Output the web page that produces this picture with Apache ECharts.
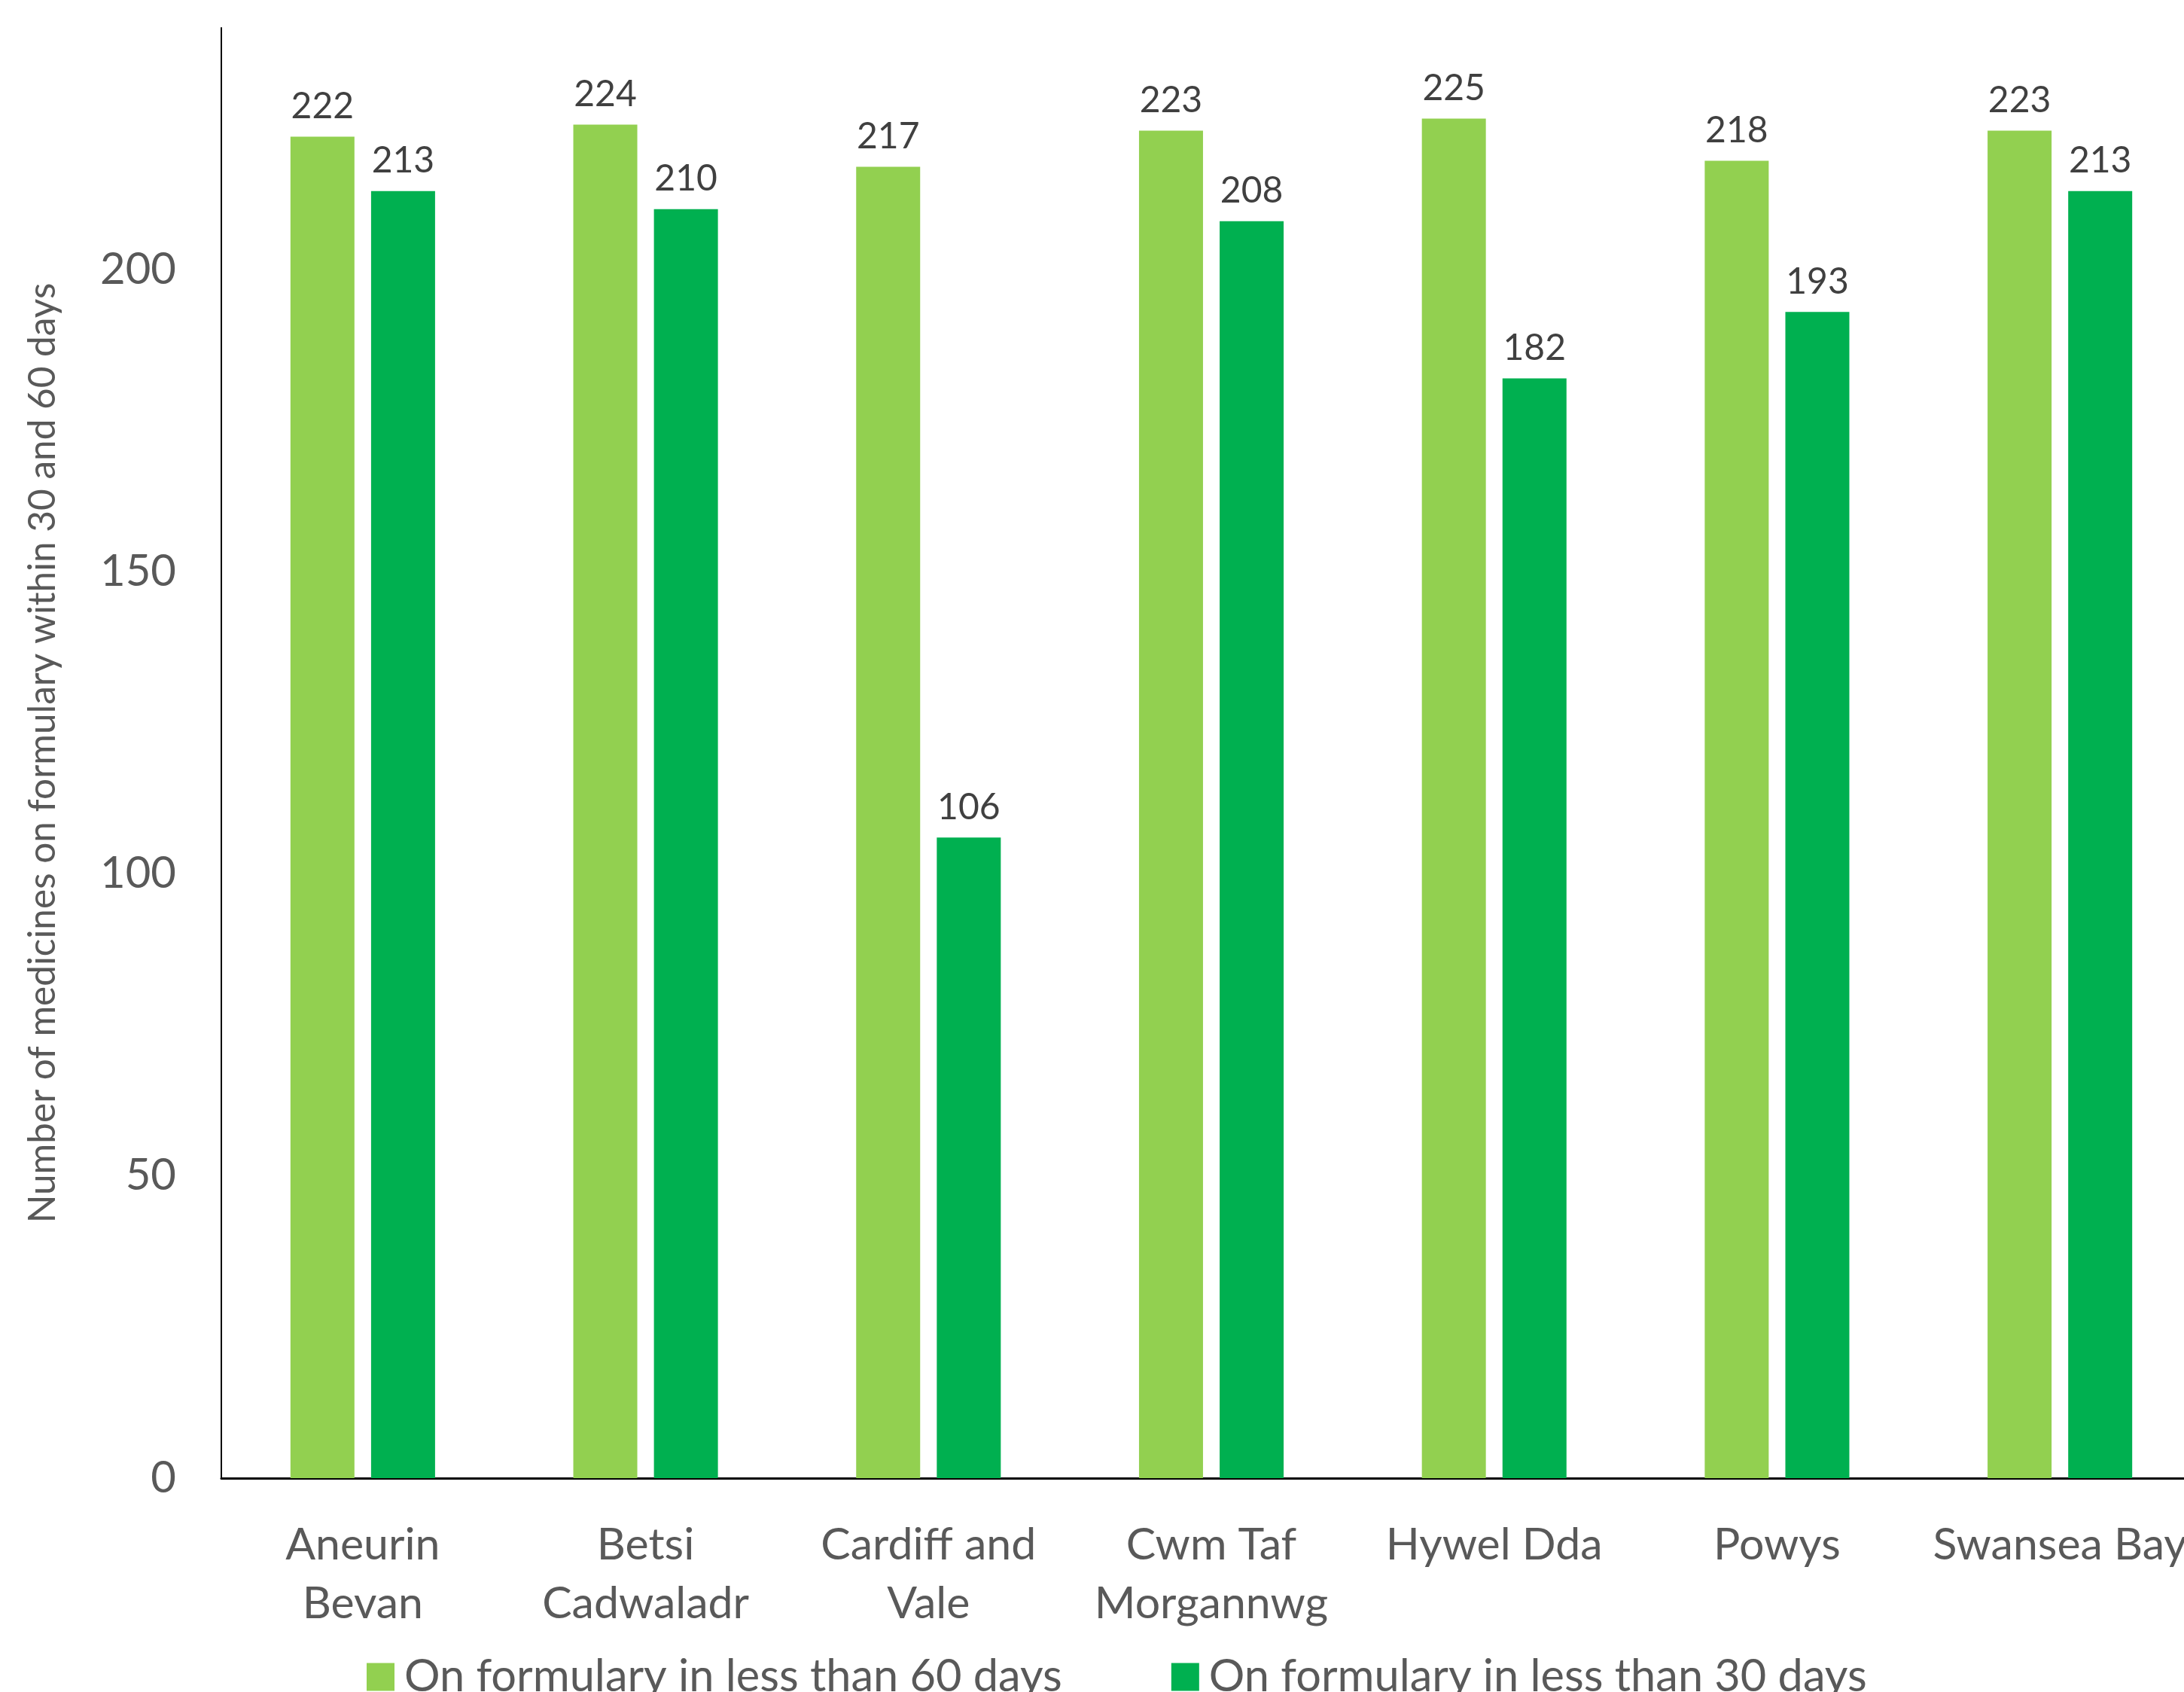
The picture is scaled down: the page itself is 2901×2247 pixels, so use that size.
<!DOCTYPE html>
<html>
<head>
<meta charset="utf-8">
<script src="https://cdn.jsdelivr.net/npm/echarts@6/dist/echarts.min.js"></script>
<style>html,body{margin:0;padding:0;background:#fff}#c{width:2901px;height:2247px}</style>
</head>
<body>
<div id="c"></div>
<script>
const categories = ['Aneurin\nBevan', 'Betsi\nCadwaladr', 'Cardiff and\nVale', 'Cwm Taf\nMorgannwg', 'Hywel Dda', 'Powys', 'Swansea Bay'];
const seriesNames = ['On formulary in less than 60 days', 'On formulary in less than 30 days'];
const within60 = [222, 224, 217, 223, 225, 218, 223];
const within30 = [213, 210, 106, 208, 182, 193, 213];
const yTicks = [0, 50, 100, 150, 200];
const yAxisTitle = 'Number of medicines on formulary within 30 and 60 days';

const FONT = 'Lato';
const chart = echarts.init(document.getElementById('c'), null, {renderer: 'canvas'});
const labelStyle = {show: true, position: 'top', distance: 16, color: '#404040', fontSize: 48, fontFamily: FONT};
chart.setOption({
  animation: false,
  backgroundColor: '#ffffff',
  grid: {left: 294, top: 37, width: 2630, height: 1926, containLabel: false, outerBoundsMode: 'none'},
  legend: {
    data: seriesNames,
    left: 482, top: 2192,
    itemWidth: 37, itemHeight: 37, itemGap: 145,
    icon: 'rect',
    textStyle: {fontSize: 59.5, color: '#595959', fontFamily: FONT, padding: [0, 0, 0, 8]}
  },
  xAxis: {
    type: 'category',
    data: categories,
    axisLine: {lineStyle: {color: '#000000', width: 3}},
    axisTick: {show: false},
    axisLabel: {color: '#595959', fontSize: 59, fontFamily: FONT, margin: 50, lineHeight: 78, interval: 0}
  },
  yAxis: {
    type: 'value',
    min: 0, max: 240, interval: 50,
    name: yAxisTitle,
    nameLocation: 'middle',
    nameGap: 212,
    nameTextStyle: {fontSize: 49.5, color: '#595959', fontFamily: FONT},
    axisLine: {show: true, lineStyle: {color: '#000000', width: 2}},
    axisTick: {show: false},
    splitLine: {show: false},
    axisLabel: {
      color: '#595959', fontSize: 58, fontFamily: FONT, margin: 60, showMaxLabel: false,
      formatter: v => yTicks.includes(v) ? String(v) : ''
    }
  },
  series: [
    {name: seriesNames[0], type: 'bar', data: within60, barWidth: 85, barGap: '26%',
     itemStyle: {color: '#92D050'}, label: labelStyle},
    {name: seriesNames[1], type: 'bar', data: within30, barWidth: 85,
     itemStyle: {color: '#00B050'}, label: labelStyle}
  ]
});
</script>
</body>
</html>
